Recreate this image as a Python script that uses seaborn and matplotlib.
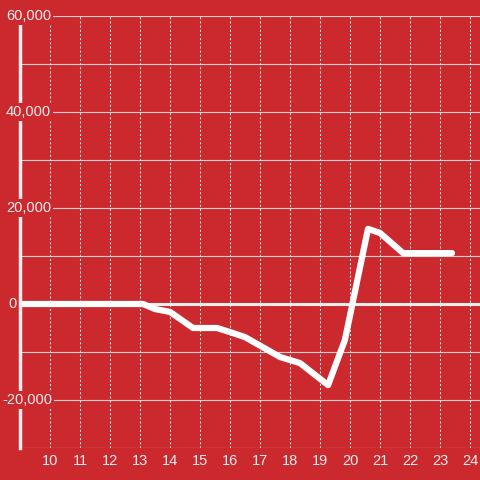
import matplotlib
matplotlib.use("Agg")
import matplotlib.pyplot as plt
import matplotlib.transforms as mtransforms
import seaborn as sns
import pandas as pd

# Werte
x_werte = [9.0, 13.1, 13.5, 14.0, 14.77, 15.57, 16.0, 16.5, 17.67, 18.33, 19.27, 19.83, 20.6, 21.0, 21.77, 23.4]
y_werte = [0, 0, -1050, -1650, -5000, -5000, -5850, -6900, -11050, -12300, -16900, -7500, 15650, 14800, 10600, 10600]
x_ticks = [10, 11, 12, 13, 14, 15, 16, 17, 18, 19, 20, 21, 22, 23, 24]
y_ticks = [60000, 40000, 20000, 0, -20000]
y_grid = [60000, 50000, 40000, 30000, 20000, 10000, 0, -10000, -20000, -30000]

rot = "#cc292e"
hell = "#eeeeee"

sns.set_style("white", {"axes.facecolor": rot, "figure.facecolor": rot})
plt.rcParams["font.family"] = ["Liberation Sans", "DejaVu Sans"]

df = pd.DataFrame({"x": x_werte, "y": y_werte})

fig = plt.figure(figsize=(4.8, 4.8), dpi=100)
ax = fig.add_axes([20 / 480, 32 / 480, 460 / 480, 432 / 480])
ax.set_facecolor(rot)

# Gitter
for g in y_grid:
    if g == 0:
        continue
    ax.axhline(g, color="#d0d0d0", lw=0.8, zorder=1)
for t in x_ticks:
    ax.axvline(t, color="#e8e8e8", lw=0.75, ls=(0, (2, 2)), zorder=1)
ax.axhline(0, color=hell, lw=2.2, zorder=2)

sns.lineplot(data=df, x="x", y="y", ax=ax, color="white", lw=4.5, zorder=3)

ax.set_xlim(9, 9 + 460 / 30)
ax.set_ylim(-30000, 60000)

for s in ["top", "right", "bottom"]:
    ax.spines[s].set_visible(False)
ax.spines["left"].set_color(hell)
ax.spines["left"].set_linewidth(2.5)
ax.spines["left"].set_zorder(4)

ax.set_xticks(x_ticks)
ax.set_xticklabels([str(t) for t in x_ticks], color=hell, fontsize=10.5)
ax.tick_params(axis="x", length=0, pad=4)
ax.set_yticks([])
ax.set_xlabel("")
ax.set_ylabel("")

# y-Beschriftungen liegen im Diagramm, mit rotem Hintergrund
trans = mtransforms.blended_transform_factory(fig.transFigure, ax.transData)
for t in y_ticks:
    label = f"{t:,}"
    if t == 0:
        x0 = 8
    elif t < 0:
        x0 = 2
    else:
        x0 = 6
    ax.text(x0 / 480, t, label, transform=trans, ha="left", va="center",
            color=hell, fontsize=10.5, zorder=5, clip_on=False,
            bbox=dict(facecolor=rot, edgecolor="none", pad=1.5))

fig.savefig("out.png", dpi=100, facecolor=rot)
